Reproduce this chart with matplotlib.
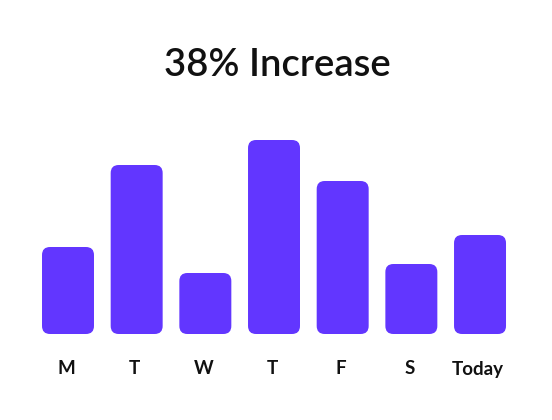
import matplotlib.pyplot as plt
from matplotlib.patches import FancyBboxPatch

days = ['M', 'T', 'W', 'T', 'F', 'S', 'Today']
values = [87, 169, 61, 194, 153, 70, 99]
title = '38% Increase'

BAR_COLOR = '#6236FF'
BAR_WIDTH = 0.757
STEP_PX = 68.67

fig = plt.figure(figsize=(5.52, 4.20), dpi=100)
ax = fig.add_axes([0, 0, 1, 1])
ax.set_xlim(-68 / STEP_PX, (552 - 68) / STEP_PX)
ax.set_ylim(-86, 334)
ax.axis('off')

radius_x = 8 / STEP_PX
for idx, (day, val) in enumerate(zip(days, values)):
    box = FancyBboxPatch((idx - BAR_WIDTH / 2, 0), BAR_WIDTH, val,
                         boxstyle=f'round,pad=0,rounding_size={radius_x}',
                         mutation_aspect=STEP_PX, facecolor=BAR_COLOR,
                         edgecolor='none')
    ax.add_patch(box)
    ax.text(idx - 0.03, -35, day, ha='center', va='center', fontsize=13.5,
            fontweight='bold', family='Lato', color='#111111')

ax.text(3.05, 268, title, ha='center', va='center', fontsize=27.5,
        fontweight='semibold', family='Lato', color='#111111')

fig.savefig('out.png', dpi=100)
